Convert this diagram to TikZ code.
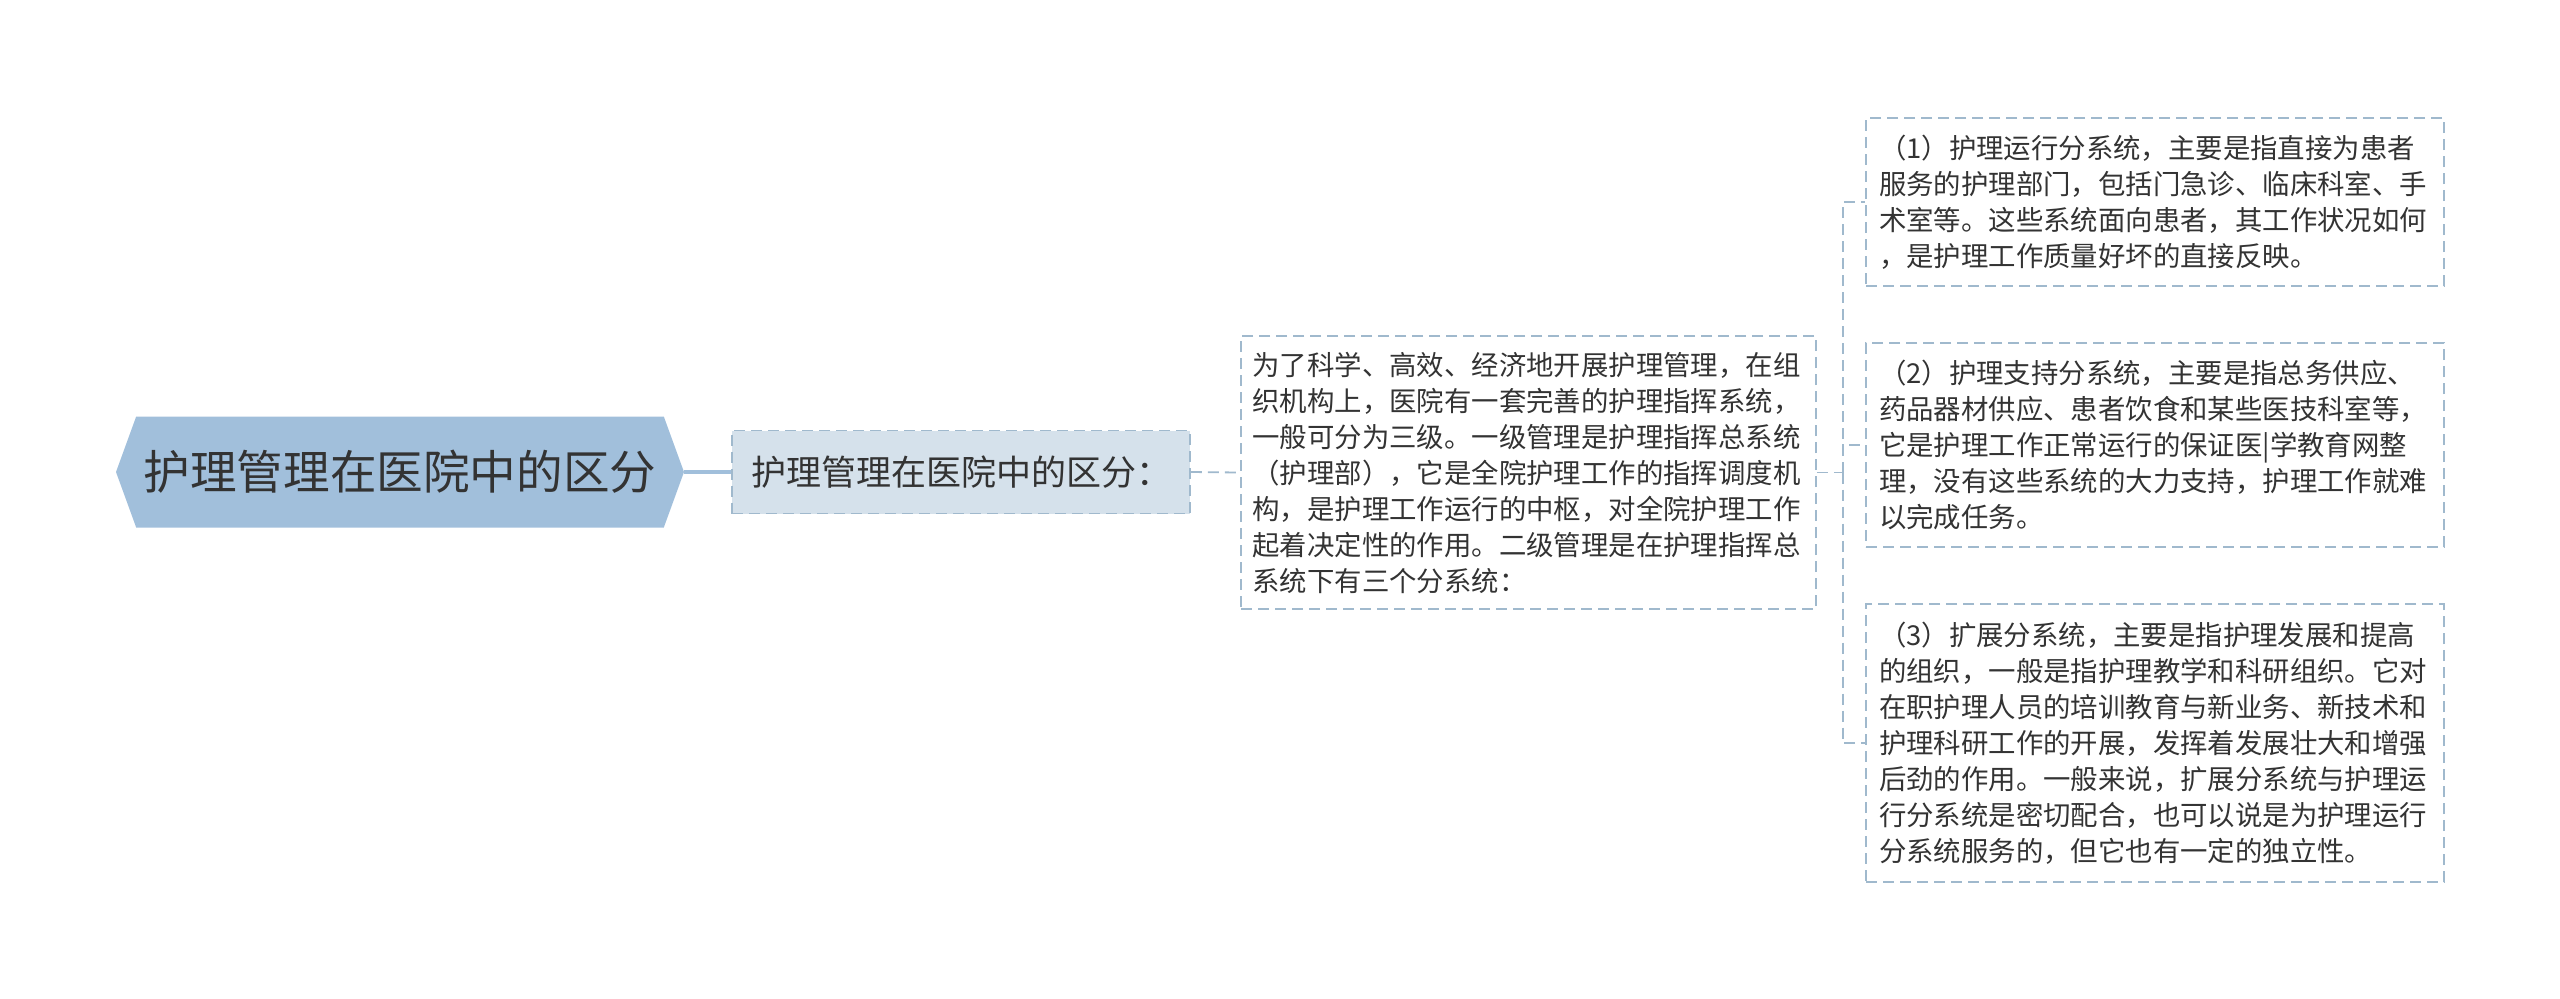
\documentclass[tikz,border=0pt]{standalone}
\usepackage{fontspec}
\setmainfont{Noto Sans CJK SC}
\usepackage{tikz}
\usepackage{xcolor}
\usetikzlibrary{positioning, shapes.symbols}
\definecolor{mmroot}{RGB}{161, 191, 219}
\definecolor{mmsub}{RGB}{213, 225, 235}
\definecolor{mmline}{RGB}{160, 185, 205}
\definecolor{mmtext}{RGB}{51, 51, 51}
\tikzset{
    rootnode/.style={shape=signal, signal to=west and east, signal pointer angle=140,
        fill=mmroot, draw=none, text=mmtext, inner sep=0pt,
        minimum width=284pt, minimum height=55.5pt, font=\fontsize{23.3}{28}\selectfont},
    subnode/.style={rectangle, fill=mmsub, draw=mmline, line width=0.9pt,
        dash pattern=on 5.5pt off 3pt, text=mmtext, inner sep=0pt,
        minimum width=229pt, minimum height=41.5pt, font=\fontsize{17.5}{21}\selectfont},
    textbox/.style={rectangle, fill=white, draw=mmline, line width=0.9pt,
        dash pattern=on 5.5pt off 3pt, text=mmtext, inner sep=0pt,
        text width=276pt, align=left, font=\fontsize{13.7}{18}\selectfont},
    link/.style={draw=mmline, line width=0.9pt, dash pattern=on 5.5pt off 3pt},
    rootlink/.style={draw=mmroot, line width=1.6pt}
}
\begin{document}
\begin{tikzpicture}[x=0.5pt, y=-0.5pt]
    \useasboundingbox (0,0) rectangle (2560,998);
    % main topic and its first branch
    \node[rootnode] (root) at (400,472) {护理管理在医院中的区分};
    \node[subnode] (sub) at (961,472) {护理管理在医院中的区分：};
    \node[textbox, minimum width=287.5pt, minimum height=136.5pt] (desc) at (1528.5,472.5)
        {为了科学、高效、经济地开展护理管理，在组\\
         织机构上，医院有一套完善的护理指挥系统，\\
         一般可分为三级。一级管理是护理指挥总系统\\
         （护理部），它是全院护理工作的指挥调度机\\
         构，是护理工作运行的中枢，对全院护理工作\\
         起着决定性的作用。二级管理是在护理指挥总\\
         系统下有三个分系统：};
    % the three sub-systems
    \node[textbox, minimum width=289pt, minimum height=84pt] (sysA) at (2155,202)
        {（1）护理运行分系统，主要是指直接为患者\\
         服务的护理部门，包括门急诊、临床科室、手\\
         术室等。这些系统面向患者，其工作状况如何\\
         ，是护理工作质量好坏的直接反映。};
    \node[textbox, minimum width=289pt, minimum height=102pt] (sysB) at (2155,445)
        {（2）护理支持分系统，主要是指总务供应、\\
         药品器材供应、患者饮食和某些医技科室等，\\
         它是护理工作正常运行的保证医|学教育网整\\
         理，没有这些系统的大力支持，护理工作就难\\
         以完成任务。};
    \node[textbox, minimum width=289pt, minimum height=139pt] (sysC) at (2155,743)
        {（3）扩展分系统，主要是指护理发展和提高\\
         的组织，一般是指护理教学和科研组织。它对\\
         在职护理人员的培训教育与新业务、新技术和\\
         护理科研工作的开展，发挥着发展壮大和增强\\
         后劲的作用。一般来说，扩展分系统与护理运\\
         行分系统是密切配合，也可以说是为护理运行\\
         分系统服务的，但它也有一定的独立性。};
    % connectors
    \draw[rootlink] (root.east) -- (sub.west);
    \draw[link] (sub.east) -- (desc.west);
    \draw[link] (desc.east) -- ++(26,0) coordinate (fork);
    \draw[link] (fork) |- (sysA.west);
    \draw[link] (fork) |- (sysB.west);
    \draw[link] (fork) |- (sysC.west);
\end{tikzpicture}
\end{document}
